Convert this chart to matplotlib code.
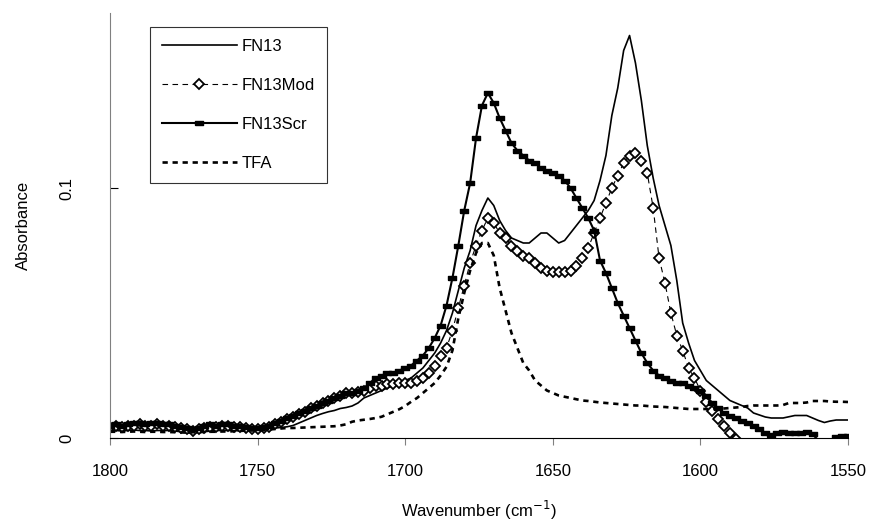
import numpy as np
import matplotlib
matplotlib.use('Agg')
import matplotlib.pyplot as plt

plt.rcParams['font.family'] = ['Liberation Sans', 'DejaVu Sans']

# wavenumber grid (cm-1), 2 cm-1 steps from 1800 down to 1550
wn = np.arange(1800, 1549, -2)

fn13 = [0.003, 0.003, 0.0028, 0.003, 0.0032, 0.003, 0.003, 0.0028, 0.003, 0.003,
        0.003, 0.0028, 0.0025, 0.002, 0.002, 0.0022, 0.0025, 0.0028, 0.003, 0.003,
        0.003, 0.003, 0.0028, 0.0028, 0.003, 0.003, 0.0032, 0.0035, 0.004, 0.0042,
        0.0045, 0.005, 0.006, 0.007, 0.008, 0.009, 0.0098, 0.0105, 0.011, 0.0118,
        0.0122, 0.0128, 0.014, 0.016, 0.017, 0.018, 0.019, 0.020, 0.021, 0.022,
        0.023, 0.024, 0.026, 0.028, 0.031, 0.034, 0.038, 0.043, 0.050, 0.059,
        0.068, 0.075, 0.085, 0.091, 0.096, 0.093, 0.087, 0.083, 0.080, 0.079,
        0.078, 0.078, 0.080, 0.082, 0.082, 0.080, 0.078, 0.079, 0.082, 0.085,
        0.088, 0.091, 0.095, 0.103, 0.113, 0.129, 0.140, 0.155, 0.161, 0.150,
        0.135, 0.117, 0.104, 0.093, 0.085, 0.077, 0.063, 0.046, 0.038, 0.031,
        0.027, 0.023, 0.021, 0.019, 0.017, 0.015, 0.014, 0.013, 0.012, 0.010,
        0.0092, 0.0084, 0.008, 0.008, 0.008, 0.0085, 0.009, 0.009, 0.009, 0.008,
        0.007, 0.0062, 0.0068, 0.0072, 0.0072, 0.0072]

fn13mod = [0.0045, 0.005, 0.0045, 0.005, 0.005, 0.0055, 0.005, 0.005, 0.0055, 0.005,
           0.005, 0.0045, 0.004, 0.0035, 0.003, 0.0035, 0.004, 0.0045, 0.0045, 0.005,
           0.005, 0.0045, 0.0045, 0.004, 0.0035, 0.0035, 0.004, 0.0045, 0.0055, 0.0065,
           0.0075, 0.0085, 0.0095, 0.0105, 0.012, 0.013, 0.014, 0.015, 0.016, 0.017,
           0.018, 0.018, 0.0185, 0.019, 0.020, 0.021, 0.021, 0.0215, 0.0215, 0.022,
           0.022, 0.022, 0.023, 0.024, 0.026, 0.029, 0.033, 0.036, 0.043, 0.052,
           0.061, 0.070, 0.077, 0.083, 0.088, 0.086, 0.082, 0.080, 0.077, 0.075,
           0.073, 0.072, 0.070, 0.068, 0.067, 0.0665, 0.0665, 0.0665, 0.067, 0.069,
           0.072, 0.076, 0.082, 0.088, 0.094, 0.100, 0.105, 0.110, 0.113, 0.114,
           0.111, 0.106, 0.092, 0.072, 0.062, 0.050, 0.041, 0.035, 0.028, 0.024,
           0.019, 0.0145, 0.011, 0.0075, 0.0048, 0.002, -0.0005, -0.003, -0.006]

fn13scr = [0.005, 0.0055, 0.005, 0.0055, 0.006, 0.006, 0.0055, 0.006, 0.006, 0.0055,
           0.0055, 0.005, 0.0045, 0.004, 0.0035, 0.004, 0.005, 0.0055, 0.005, 0.0055,
           0.0055, 0.005, 0.005, 0.0045, 0.004, 0.004, 0.0045, 0.005, 0.006, 0.007,
           0.008, 0.009, 0.010, 0.011, 0.012, 0.013, 0.014, 0.015, 0.016, 0.017,
           0.018, 0.018, 0.019, 0.020, 0.022, 0.024, 0.025, 0.026, 0.026, 0.027,
           0.028, 0.029, 0.031, 0.033, 0.036, 0.040, 0.045, 0.053, 0.064, 0.077,
           0.091, 0.102, 0.120, 0.133, 0.138, 0.134, 0.128, 0.123, 0.118, 0.115,
           0.113, 0.111, 0.110, 0.108, 0.107, 0.106, 0.105, 0.103, 0.100, 0.096,
           0.092, 0.088, 0.083, 0.071, 0.066, 0.060, 0.054, 0.049, 0.044, 0.039,
           0.034, 0.030, 0.027, 0.025, 0.024, 0.023, 0.022, 0.022, 0.021, 0.020,
           0.019, 0.017, 0.014, 0.012, 0.010, 0.009, 0.008, 0.007, 0.006, 0.005,
           0.0035, 0.002, 0.0012, 0.002, 0.0025, 0.002, 0.0022, 0.002, 0.0025, 0.0015,
           -0.001, -0.003, -0.002, 0.0004, 0.001, 0.001]

tfa = [0.0025, 0.0025, 0.0024, 0.0025, 0.0026, 0.0025, 0.0024, 0.0025, 0.0025, 0.0024,
       0.0024, 0.0023, 0.0022, 0.0022, 0.0023, 0.0024, 0.0024, 0.0025, 0.0025, 0.0026,
       0.0026, 0.0027, 0.0028, 0.003, 0.003, 0.0031, 0.0032, 0.0034, 0.0036, 0.0038,
       0.004, 0.004, 0.0041, 0.0042, 0.0043, 0.0044, 0.0045, 0.0046, 0.0047, 0.005,
       0.0055, 0.0065, 0.007, 0.0073, 0.0076, 0.008, 0.0085, 0.0095, 0.0105, 0.0115,
       0.0128, 0.0145, 0.016, 0.018, 0.020, 0.022, 0.025, 0.0285, 0.035, 0.048,
       0.058, 0.067, 0.074, 0.078, 0.078, 0.073, 0.060, 0.051, 0.042, 0.036,
       0.030, 0.027, 0.023, 0.021, 0.019, 0.018, 0.017, 0.0165, 0.016, 0.0155,
       0.015, 0.0148, 0.0145, 0.0142, 0.014, 0.0138, 0.0136, 0.0134, 0.0132, 0.013,
       0.013, 0.0128, 0.0126, 0.0125, 0.0124, 0.0122, 0.012, 0.0118, 0.0116, 0.0116,
       0.0116, 0.0116, 0.0116, 0.0116, 0.0118, 0.012, 0.0122, 0.0124, 0.0128, 0.013,
       0.013, 0.013, 0.013, 0.013, 0.0132, 0.014, 0.014, 0.014, 0.0142, 0.0148,
       0.0148, 0.0148, 0.0146, 0.0145, 0.0145, 0.0144]

x_ticks = [1800, 1750, 1700, 1650, 1600, 1550]
y_ticks = [0, 0.1]
y_tick_labels = ['0', '0.1']

fig = plt.figure(figsize=(8.73, 5.28), dpi=100)
ax = fig.add_axes([110 / 873, 90 / 528, 738 / 873, 425 / 528])

# small black bar marker for FN13Scr
bar = [(-1, -0.45), (1, -0.45), (1, 0.45), (-1, 0.45), (-1, -0.45)]

ax.plot(wn, fn13, color='black', lw=1.2, label='FN13')
ax.plot(wn[:len(fn13mod)], fn13mod, color='black', lw=0.8, ls=(0, (5, 4)),
        marker='D', ms=5, mfc='white', mec='black', mew=1.3, label='FN13Mod')
ax.plot(wn, fn13scr, color='black', lw=1.5, marker=bar, ms=6,
        mfc='black', mec='black', label='FN13Scr')
ax.plot(wn, tfa, color='black', lw=1.9, ls=(0, (2, 1.8)), label='TFA')

ax.set_xlim(1800, 1550)
ax.set_ylim(0, 0.17)

for s in ['top', 'right']:
    ax.spines[s].set_visible(False)
ax.spines['left'].set_color('#808080')
ax.spines['bottom'].set_color('black')

ax.set_xticks(x_ticks)
ax.set_xticklabels([str(t) for t in x_ticks], fontsize=12)
ax.tick_params(axis='x', direction='out', length=5, color='#808080', pad=14)
ax.set_yticks(y_ticks)
ax.set_yticklabels(y_tick_labels, fontsize=12, rotation=90, va='center')
ax.tick_params(axis='y', direction='in', length=6, color='black', pad=26)

ax.set_xlabel('Wavenumber (cm$^{-1}$)', fontsize=12, labelpad=14)
ax.set_ylabel('Absorbance', fontsize=12, labelpad=20)

leg = ax.legend(loc='upper left', bbox_to_anchor=((150 - 110) / 738, (438 - 27) / 425),
                borderaxespad=0, fontsize=12, handlelength=4.5, labelspacing=1.45,
                frameon=True, fancybox=False, edgecolor='black', borderpad=0.7,
                handletextpad=0.3, markerscale=1.0)
leg.get_frame().set_linewidth(0.8)

fig.savefig('out.png', dpi=100)
